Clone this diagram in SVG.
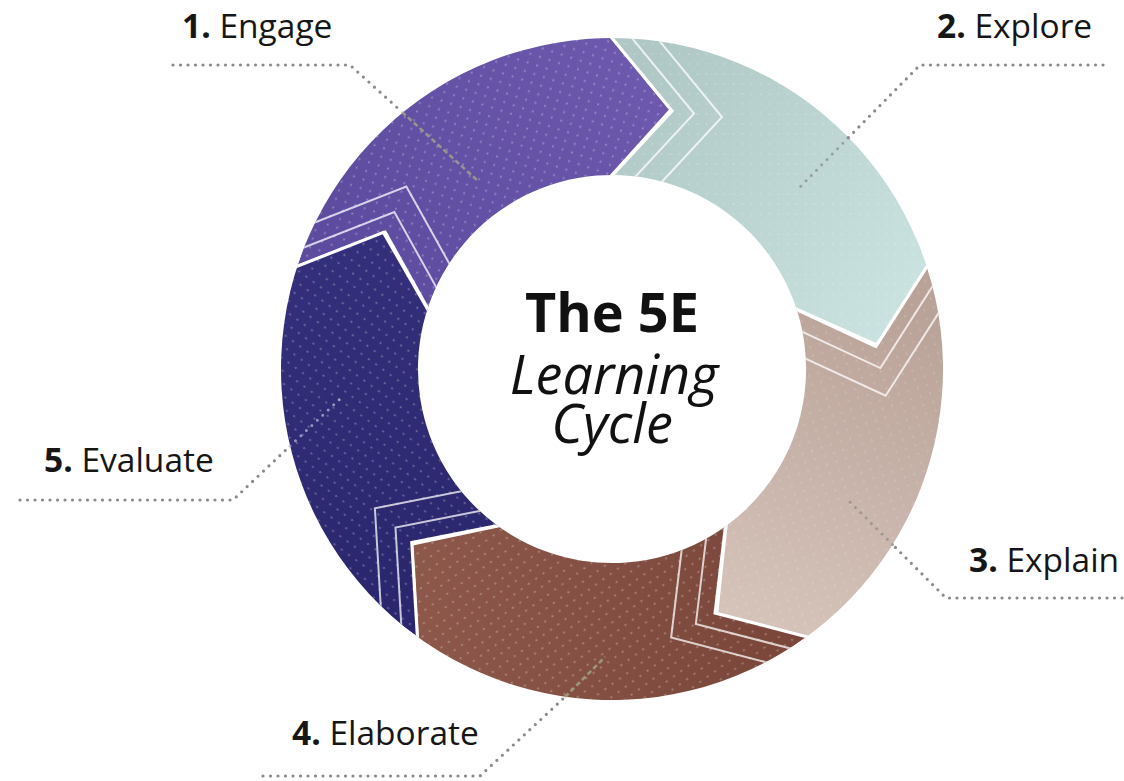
<svg xmlns="http://www.w3.org/2000/svg" xmlns:xlink="http://www.w3.org/1999/xlink" width="1124" height="781" viewBox="0 0 1124 781">
<style>
.lbl{font-family:"Open Sans","Noto Sans","Liberation Sans",sans-serif;font-size:33.5px;fill:#161616}
.num{font-weight:bold}
.title{font-family:"Open Sans","Noto Sans","Liberation Sans",sans-serif;font-size:54px;fill:#111;text-anchor:middle}
.edge{fill:none;stroke:#fff;stroke-width:3.2;stroke-linejoin:miter}
.echo{fill:none;stroke:#fff;stroke-width:2;stroke-opacity:0.75;stroke-linejoin:miter}
.lead{fill:none;stroke:#8a8a8a;stroke-width:3.2;stroke-linecap:round;stroke-dasharray:0 7.5}
.lead-in{fill:none;stroke:#9ca386;stroke-width:2.6;stroke-dasharray:5 3;opacity:0.85}
.lead-dot{fill:none;stroke:#8f8f8f;stroke-width:3;stroke-linecap:round;stroke-dasharray:0 7.5;opacity:0.8}
</style>
<defs>
<clipPath id="ring"><path clip-rule="evenodd" d="M331,0A331,331 0 1 1 -331,0A331,331 0 1 1 331,0ZM194,0A194,194 0 1 0 -194,0A194,194 0 1 0 194,0Z"/></clipPath>
<path id="segShape" d="M0,-420L0,-331L60,-258L0,-194L0,0L184.5,-59.95L265.2,-23.8L314.8,-102.3L399.4,-129.8L270.4,-372.1Z"/>
<path id="bStart" d="M-30,-367.5L60,-258L-30,-161"/>
<path id="bEnd" d="M335.2,-133.4L265.2,-23.8L152.7,-74.1"/>
<path id="echo1" d="M-8,-365L82,-255.5L-8,-158.5"/>
<path id="echo2" d="M20,-361.5L110,-252L20,-155"/>
<pattern id="dots" width="9" height="10" patternUnits="userSpaceOnUse"><circle cx="4.5" cy="5" r="1.1" fill="#fff" fill-opacity="0.32"/></pattern>
<linearGradient id="gEngage" gradientUnits="userSpaceOnUse" x1="30" y1="-300" x2="330" y2="-60"><stop offset="0" stop-color="#5c4b9f"/><stop offset="1" stop-color="#6e5aae"/></linearGradient>
<linearGradient id="gExplore" gradientUnits="userSpaceOnUse" x1="30" y1="-300" x2="330" y2="-60"><stop offset="0" stop-color="#afc7c5"/><stop offset="1" stop-color="#cce5e3"/></linearGradient>
<linearGradient id="gExplain" gradientUnits="userSpaceOnUse" x1="30" y1="-300" x2="330" y2="-60"><stop offset="0" stop-color="#b9a298"/><stop offset="1" stop-color="#d8c6bd"/></linearGradient>
<linearGradient id="gElaborate" gradientUnits="userSpaceOnUse" x1="30" y1="-300" x2="330" y2="-60"><stop offset="0" stop-color="#7b473b"/><stop offset="1" stop-color="#8f5a4c"/></linearGradient>
<linearGradient id="gEvaluate" gradientUnits="userSpaceOnUse" x1="30" y1="-300" x2="330" y2="-60"><stop offset="0" stop-color="#2a276e"/><stop offset="1" stop-color="#35307c"/></linearGradient>
</defs>
<rect width="1124" height="781" fill="#fff"/>

<g id="engage">
<g transform="translate(612,369) rotate(-72)" clip-path="url(#ring)">
<use xlink:href="#segShape" fill="url(#gEngage)"/>
<use xlink:href="#segShape" fill="url(#dots)"/>
<use xlink:href="#echo1" class="echo"/><use xlink:href="#echo2" class="echo"/>
<use xlink:href="#bStart" class="edge"/><use xlink:href="#bEnd" class="edge"/>
</g>
<text class="lbl" x="182" y="38"><tspan class="num">1.</tspan> Engage</text>
</g>

<g id="explore">
<g transform="translate(612,369)" clip-path="url(#ring)">
<use xlink:href="#segShape" fill="url(#gExplore)"/>
<use xlink:href="#segShape" fill="url(#dots)" opacity="0.6"/>
<use xlink:href="#echo1" class="echo"/><use xlink:href="#echo2" class="echo"/>
<use xlink:href="#bStart" class="edge"/><use xlink:href="#bEnd" class="edge"/>
</g>
<text class="lbl" x="937" y="38"><tspan class="num">2.</tspan> Explore</text>
</g>

<g id="explain">
<g transform="translate(612,369) rotate(72)" clip-path="url(#ring)">
<use xlink:href="#segShape" fill="url(#gExplain)"/>
<use xlink:href="#segShape" fill="url(#dots)" opacity="0.6"/>
<use xlink:href="#echo1" class="echo"/><use xlink:href="#echo2" class="echo"/>
<use xlink:href="#bStart" class="edge"/><use xlink:href="#bEnd" class="edge"/>
</g>
<text class="lbl" x="969" y="572"><tspan class="num">3.</tspan> Explain</text>
</g>

<g id="elaborate">
<g transform="translate(612,369) rotate(144)" clip-path="url(#ring)">
<use xlink:href="#segShape" fill="url(#gElaborate)"/>
<use xlink:href="#segShape" fill="url(#dots)"/>
<use xlink:href="#echo1" class="echo"/><use xlink:href="#echo2" class="echo"/>
<use xlink:href="#bStart" class="edge"/><use xlink:href="#bEnd" class="edge"/>
</g>
<text class="lbl" x="292" y="745"><tspan class="num">4.</tspan> Elaborate</text>
</g>

<g id="evaluate">
<g transform="translate(612,369) rotate(216)" clip-path="url(#ring)">
<use xlink:href="#segShape" fill="url(#gEvaluate)"/>
<use xlink:href="#segShape" fill="url(#dots)"/>
<use xlink:href="#echo1" class="echo"/><use xlink:href="#echo2" class="echo"/>
<use xlink:href="#bStart" class="edge"/><use xlink:href="#bEnd" class="edge"/>
</g>
<text class="lbl" x="44" y="472"><tspan class="num">5.</tspan> Evaluate</text>
</g>

<g id="center">
<text class="title" x="612" y="332" font-weight="bold">The 5E</text>
<text class="title" x="614" y="394" font-style="italic">Learning</text>
<text class="title" x="612" y="443" font-style="italic">Cycle</text>
</g>

<g id="connectors">
<path class="lead" d="M173,65H350L402,112"/>
<path class="lead-in" d="M402,112L478,181"/>
<path class="lead" d="M1103,65H920L848,138"/>
<path class="lead-dot" d="M848,138L800,187"/>
<path class="lead" d="M1122,598H946L892.6,544.6"/>
<path class="lead-dot" d="M892.6,544.6L850,502"/>
<path class="lead" d="M263,776H480L565,697"/>
<path class="lead-in" d="M565,697L605,657"/>
<path class="lead" d="M20,500H233L290,446"/>
<path class="lead-dot" d="M290,446L342,397" style="stroke:#b0aed0"/>
</g>
</svg>
